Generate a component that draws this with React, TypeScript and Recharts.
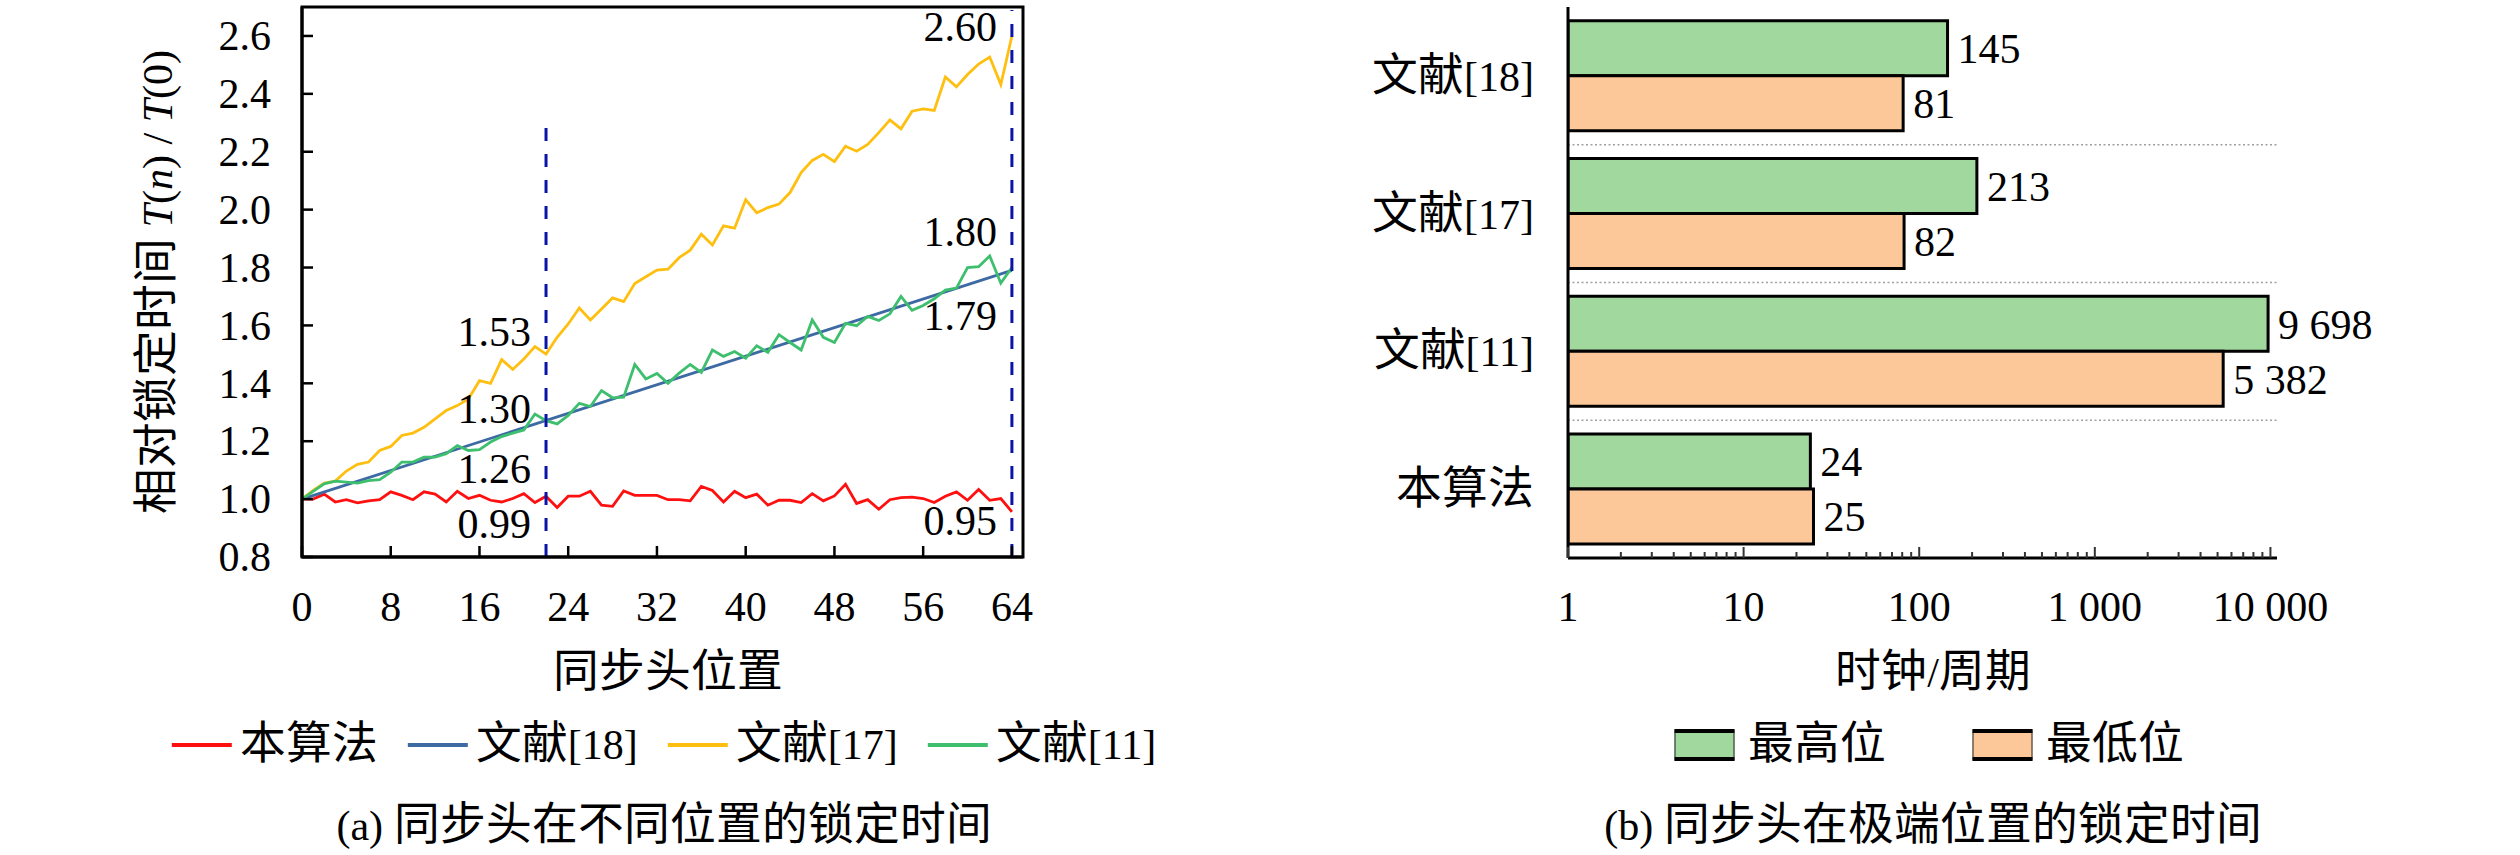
import React from 'react';
import {
  LineChart,
  Line,
  XAxis,
  YAxis,
  ReferenceLine,
  ReferenceDot,
  BarChart,
  Bar,
  LabelList,
} from 'recharts';

// ---- (a) lock time vs. sync-header position ----
const positions = [
  0, 1, 2, 3, 4, 5, 6, 7, 8, 9, 10, 11, 12, 13, 14, 15, 16, 17, 18, 19, 20, 21,
  22, 23, 24, 25, 26, 27, 28, 29, 30, 31, 32, 33, 34, 35, 36, 37, 38, 39, 40, 41,
  42, 43, 44, 45, 46, 47, 48, 49, 50, 51, 52, 53, 54, 55, 56, 57, 58, 59, 60, 61,
  62, 63, 64,
];
const oursValues = [
  1.0, 1.0, 1.017, 0.99, 0.998, 0.987, 0.994, 0.998, 1.025, 1.013, 0.998, 1.025,
  1.017, 0.99, 1.027, 1.002, 1.013, 0.996, 0.99, 1.002, 1.019, 0.988, 1.01, 0.971,
  1.01, 1.01, 1.027, 0.979, 0.975, 1.028, 1.013, 1.013, 1.013, 0.998, 0.998, 0.994,
  1.044, 1.03, 0.99, 1.027, 1.005, 1.017, 0.979, 0.996, 0.996, 0.988, 1.019, 0.994,
  1.011, 1.051, 0.985, 0.998, 0.965, 0.998, 1.005, 1.007, 1.002, 0.988, 1.01, 1.025,
  0.996, 1.033, 0.996, 1.002, 0.956,
];
const ref17Values = [
  1.0, 1.03, 1.055, 1.062, 1.097, 1.12, 1.128, 1.168, 1.182, 1.22, 1.228, 1.248,
  1.277, 1.306, 1.323, 1.346, 1.409, 1.4, 1.482, 1.448, 1.484, 1.527, 1.501, 1.559,
  1.605, 1.66, 1.619, 1.657, 1.695, 1.682, 1.745, 1.768, 1.791, 1.794, 1.834, 1.86,
  1.915, 1.878, 1.944, 1.936, 2.034, 1.989, 2.007, 2.019, 2.059, 2.128, 2.17, 2.191,
  2.166, 2.219, 2.202, 2.225, 2.266, 2.31, 2.279, 2.34, 2.348, 2.343, 2.458, 2.424,
  2.467, 2.503, 2.527, 2.432, 2.6,
];
const ref11Values = [
  1.0, 1.027, 1.053, 1.062, 1.059, 1.055, 1.064, 1.067, 1.093, 1.128, 1.128, 1.145,
  1.145, 1.157, 1.185, 1.168, 1.171, 1.197, 1.216, 1.228, 1.239, 1.294, 1.271, 1.26,
  1.289, 1.331, 1.32, 1.375, 1.35, 1.352, 1.465, 1.415, 1.434, 1.4, 1.435, 1.465,
  1.438, 1.515, 1.493, 1.51, 1.487, 1.53, 1.507, 1.568, 1.541, 1.515, 1.619, 1.559,
  1.541, 1.607, 1.599, 1.631, 1.617, 1.64, 1.7, 1.652, 1.669, 1.692, 1.722, 1.729,
  1.8, 1.803, 1.84, 1.746, 1.8,
];
const ref18Positions = [0, 64];
const ref18Values = [1.0, 1.79];

const posDomain = [0, 65];
const ratioDomain = [0.8, 2.7];
const posTicks = [0, 8, 16, 24, 32, 40, 48, 56, 64];
const ratioTicks = [0.8, 1.0, 1.2, 1.4, 1.6, 1.8, 2.0, 2.2, 2.4, 2.6];

const markerPositions = [22, 64];
const markerTops = [2.32, 2.69];

const noteTexts = ['1.53', '1.30', '1.26', '0.99', '2.60', '1.80', '1.79', '0.95'];
const notePositions = [22, 22, 22, 22, 64, 64, 64, 64];
const noteLevels = [1.53, 1.264, 1.054, 0.864, 2.582, 1.875, 1.585, 0.875];

// ---- (b) lock time at extreme positions ----
const categories = ['文献[18]', '文献[17]', '文献[11]', '本算法'];
const highValues = [145, 213, 9698, 24];
const lowValues = [81, 82, 5382, 25];
const logTicks = [
  1, 2, 3, 4, 5, 6, 7, 8, 9, 10, 20, 30, 40, 50, 60, 70, 80, 90, 100, 200, 300,
  400, 500, 600, 700, 800, 900, 1000, 2000, 3000, 4000, 5000, 6000, 7000, 8000,
  9000, 10000,
];
const logMajor = [1, 10, 100, 1000, 10000];

// CJK glyphs run a little larger than the Latin ones in the original
const fontCss = `
@font-face {
  font-family: 'CJKWide';
  src: local('Noto Sans CJK SC'), local('Noto Sans CJK SC Regular'), local('NotoSansCJKsc-Regular');
  size-adjust: 109%;
}`;
const serif = "'Liberation Serif', 'CJKWide', 'Noto Sans CJK SC', serif";
const FS = 42;

// plot box of panel (a), inside its 1100x640 svg
const CHART_W = 1100;
const CHART_H = 640;
const boxA = { left: 302, top: 7, right: 1023, bottom: 557 };

const lineSeries = [
  { name: '本算法', color: '#ff1010', xs: positions, ys: oursValues },
  { name: '文献[18]', color: '#3d6aa3', xs: ref18Positions, ys: ref18Values },
  { name: '文献[17]', color: '#ffbf10', xs: positions, ys: ref17Values },
  { name: '文献[11]', color: '#3dbf6e', xs: positions, ys: ref11Values },
];

const barSeries = [
  { key: 'high', name: '最高位', color: '#a0d89e', values: highValues },
  { key: 'low', name: '最低位', color: '#fdc899', values: lowValues },
];

const barRows = categories.map((name, i) => ({
  name,
  high: highValues[i],
  low: lowValues[i],
}));

function spaced(v: number) {
  if (v < 1000) return String(v);
  return `${Math.floor(v / 1000)} ${String(v % 1000).padStart(3, '0')}`;
}

function PosTick({ x, y, payload }: any) {
  return (
    <g>
      <line x1={x} y1={y} x2={x} y2={y - 11} stroke="#000" strokeWidth={2.5} />
      <text x={x} y={y + 64} textAnchor="middle" fontSize={FS} fontFamily={serif} fill="#000">
        {payload.value}
      </text>
    </g>
  );
}

function RatioTick({ x, y, payload }: any) {
  return (
    <g>
      <line x1={x} y1={y} x2={x + 11} y2={y} stroke="#000" strokeWidth={2.5} />
      <text x={x - 31} y={y} dy="0.34em" textAnchor="end" fontSize={FS} fontFamily={serif} fill="#000">
        {Number(payload.value).toFixed(1)}
      </text>
    </g>
  );
}

function LogTick({ x, y, payload }: any) {
  const major = logMajor.includes(payload.value);
  return (
    <g>
      <line x1={x} y1={y} x2={x} y2={y - (major ? 11 : 6)} stroke="#333" strokeWidth={2} />
      {major && (
        <text x={x} y={y + 63} textAnchor="middle" fontSize={FS} fontFamily={serif} fill="#000">
          {spaced(payload.value)}
        </text>
      )}
    </g>
  );
}

function CategoryTick({ x, y, payload }: any) {
  return (
    <text x={x - 34} y={y} dy="0.36em" textAnchor="end" fontSize={FS} fontFamily={serif} fill="#000">
      {payload.value}
    </text>
  );
}

function RatioTitle({ viewBox }: any) {
  const cx = viewBox.x + viewBox.width - 144;
  const cy = viewBox.y + viewBox.height / 2;
  return (
    <text
      transform={`translate(${cx},${cy}) rotate(-90)`}
      textAnchor="middle"
      dominantBaseline="central"
      fontSize={FS}
      fontFamily={serif}
      fill="#000"
    >
      相对锁定时间 <tspan fontStyle="italic">T</tspan>(<tspan fontStyle="italic">n</tspan>) /{' '}
      <tspan fontStyle="italic">T</tspan>(0)
    </text>
  );
}

const axisStroke = { stroke: '#000', strokeWidth: 3 };

function PositionChart() {
  return (
    <LineChart
      width={CHART_W}
      height={CHART_H}
      margin={{ top: boxA.top, right: CHART_W - boxA.right, bottom: 0, left: 0 }}
    >
      <XAxis
        type="number"
        dataKey="pos"
        domain={posDomain}
        ticks={posTicks}
        interval={0}
        height={CHART_H - boxA.bottom}
        tickSize={0}
        tickMargin={0}
        tickLine={false}
        tick={PosTick}
        axisLine={axisStroke}
        allowDuplicatedCategory={false}
      />
      <YAxis
        type="number"
        domain={ratioDomain}
        ticks={ratioTicks}
        interval={0}
        width={boxA.left}
        tickSize={0}
        tickMargin={0}
        tickLine={false}
        tick={RatioTick}
        axisLine={axisStroke}
        label={(p: any) => <RatioTitle {...p} />}
      />
      {lineSeries.map((s) => (
        <Line
          key={s.name}
          data={s.xs.map((p, i) => ({ pos: p, value: s.ys[i] }))}
          dataKey="value"
          name={s.name}
          type="linear"
          stroke={s.color}
          strokeWidth={2.8}
          dot={false}
          isAnimationActive={false}
        />
      ))}
      {markerPositions.map((p, i) => (
        <ReferenceLine
          key={`m${p}`}
          segment={[
            { x: p, y: ratioDomain[0] },
            { x: p, y: markerTops[i] },
          ]}
          stroke="#0a14a8"
          strokeWidth={3}
          strokeDasharray="13 13"
          ifOverflow="visible"
        />
      ))}
      {noteTexts.map((t, i) => (
        <ReferenceDot
          key={`n${i}`}
          x={notePositions[i]}
          y={noteLevels[i]}
          r={0}
          stroke="none"
          fill="none"
          label={(p: any) => (
            <text
              x={p.viewBox.x - 15}
              y={p.viewBox.y}
              textAnchor="end"
              fontSize={FS}
              fontFamily={serif}
              fill="#000"
            >
              {t}
            </text>
          )}
        />
      ))}
    </LineChart>
  );
}

function ExtremeChart() {
  return (
    <BarChart
      layout="vertical"
      width={CHART_W}
      height={CHART_H}
      data={barRows}
      margin={{ top: 7, right: 123, bottom: 0, left: 0 }}
      barCategoryGap="10%"
      barGap={0}
    >
      <XAxis
        type="number"
        scale="log"
        domain={[1, 10900]}
        ticks={logTicks}
        interval={0}
        height={82}
        tickSize={0}
        tickMargin={0}
        tickLine={false}
        tick={LogTick}
        axisLine={axisStroke}
        allowDataOverflow
      />
      <YAxis
        type="category"
        dataKey="name"
        width={268}
        tickSize={0}
        tickMargin={0}
        tickLine={false}
        tick={CategoryTick}
        axisLine={axisStroke}
      />
      {categories.slice(1).map((c) => (
        <ReferenceLine
          key={c}
          y={c}
          position="start"
          stroke="#a0a0a0"
          strokeWidth={1.6}
          strokeDasharray="2 2.5"
        />
      ))}
      {barSeries.map((s) => (
        <Bar
          key={s.key}
          dataKey={s.key}
          name={s.name}
          fill={s.color}
          stroke="#000"
          strokeWidth={3}
          isAnimationActive={false}
        >
          <LabelList
            dataKey={s.key}
            position="right"
            offset={10}
            formatter={(v: any) => spaced(Number(v))}
            fill="#000"
            fontSize={FS}
            fontFamily={serif}
          />
        </Bar>
      ))}
    </BarChart>
  );
}

const centered = (cx: number, cy: number): React.CSSProperties => ({
  position: 'absolute',
  left: cx,
  top: cy,
  transform: 'translate(-50%, -50%)',
  whiteSpace: 'nowrap',
  lineHeight: 1,
  fontSize: FS,
  fontFamily: serif,
  color: '#000',
});

export default function App() {
  return (
    <div
      style={{
        position: 'absolute',
        left: 0,
        top: 0,
        width: 2520,
        height: 855,
        background: '#fff',
        overflow: 'hidden',
        fontFamily: serif,
      }}
    >
      <style>{fontCss}</style>
      <div style={{ position: 'absolute', left: 0, top: 0, width: CHART_W, height: CHART_H }}>
        <PositionChart />
      </div>
      {/* closed box around panel (a), drawn above the chart */}
      <svg
        width={CHART_W}
        height={CHART_H}
        style={{ position: 'absolute', left: 0, top: 0, zIndex: 5, pointerEvents: 'none' }}
      >
        <rect
          x={boxA.left}
          y={boxA.top}
          width={boxA.right - boxA.left}
          height={boxA.bottom - boxA.top}
          fill="none"
          stroke="#000"
          strokeWidth={3}
        />
      </svg>
      <div style={{ position: 'absolute', left: 1300, top: 0 }}>
        <ExtremeChart />
      </div>

      <div style={centered(668, 673)}>同步头位置</div>
      <div style={centered(1933, 673)}>时钟/周期</div>

      <div style={{ ...centered(664, 745), display: 'flex', alignItems: 'center', gap: 30 }}>
        {lineSeries.map((s) => (
          <div key={s.name} style={{ display: 'flex', alignItems: 'center', gap: 8 }}>
            <div style={{ width: 60, height: 4, background: s.color }} />
            <span>{s.name}</span>
          </div>
        ))}
      </div>

      <div style={{ ...centered(1929, 745), display: 'flex', alignItems: 'center', gap: 87 }}>
        {barSeries.map((s) => (
          <div key={s.key} style={{ display: 'flex', alignItems: 'center', gap: 13 }}>
            <div
              style={{
                width: 58,
                height: 24,
                background: s.color,
                borderTop: '4px solid #000',
                borderBottom: '4px solid #000',
                borderLeft: '1.5px solid #222',
                borderRight: '1.5px solid #222',
              }}
            />
            <span>{s.name}</span>
          </div>
        ))}
      </div>

      <div style={centered(664, 826)}>(a) 同步头在不同位置的锁定时间</div>
      <div style={centered(1933, 826)}>(b) 同步头在极端位置的锁定时间</div>
    </div>
  );
}
